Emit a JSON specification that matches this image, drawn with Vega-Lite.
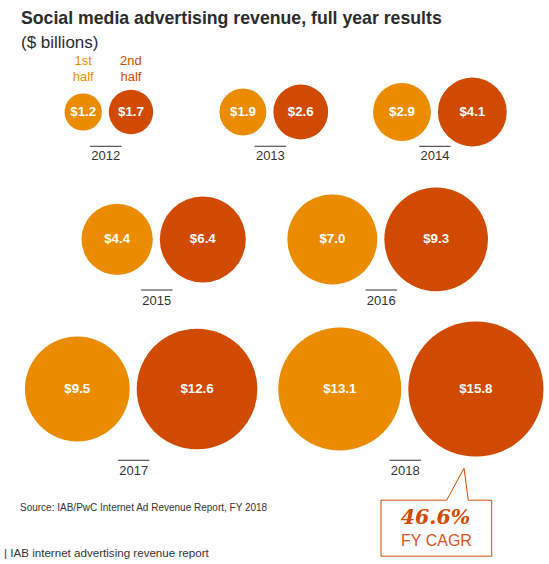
{
  "$schema": "https://vega.github.io/schema/vega-lite/v6.json",
  "background": "white",
  "padding": {"left": 0, "top": 10, "right": 0, "bottom": 0},
  "config": {"view": {"stroke": null}, "font": "Liberation Sans", "concat": {"spacing": 0}},
  "data": {"values": [
    {"year": "2012", "half": "1st half", "value": 1.2},
    {"year": "2012", "half": "2nd half", "value": 1.7},
    {"year": "2013", "half": "1st half", "value": 1.9},
    {"year": "2013", "half": "2nd half", "value": 2.6},
    {"year": "2014", "half": "1st half", "value": 2.9},
    {"year": "2014", "half": "2nd half", "value": 4.1},
    {"year": "2015", "half": "1st half", "value": 4.4},
    {"year": "2015", "half": "2nd half", "value": 6.4},
    {"year": "2016", "half": "1st half", "value": 7.0},
    {"year": "2016", "half": "2nd half", "value": 9.3},
    {"year": "2017", "half": "1st half", "value": 9.5},
    {"year": "2017", "half": "2nd half", "value": 12.6},
    {"year": "2018", "half": "1st half", "value": 13.1},
    {"year": "2018", "half": "2nd half", "value": 15.8}
  ]},
  "title": {"text": "| IAB internet advertising revenue report", "orient": "bottom", "anchor": "start", "frame": "group", "dx": 4, "offset": -10, "fontSize": 11.6, "fontWeight": "normal", "color": "#333333", "font": "Liberation Sans"},
  "vconcat": [
    {
      "title": {"text": "Social media advertising revenue, full year results", "subtitle": "($ billions)", "anchor": "start", "frame": "group", "dx": 21, "offset": 4, "fontSize": 17.7, "fontWeight": "bold", "font": "Liberation Sans", "color": "#2b2b2b", "subtitleFontSize": 17, "subtitleColor": "#2b2b2b", "subtitleFont": "Liberation Sans", "subtitlePadding": 7},
      "spacing": 0,
      "bounds": "flush",
      "resolve": {"scale": {"x": "independent", "xOffset": "independent"}},
      "vconcat": [
        {
          "width": 540.7, "height": 114,
          "transform": [{"filter": {"field": "year", "oneOf": ["2012", "2013", "2014"]}}],
          "encoding": {"x": {"field": "year", "type": "ordinal", "scale": {"type": "point", "padding": 0.643}, "axis": null}},
          "layer": [
            {
              "transform": [{"filter": {"field": "half", "equal": "1st half"}}],
              "encoding": {"xOffset": {"field": "value", "type": "quantitative", "scale": {"type": "sqrt", "domain": [0, 15.8], "range": [-4, -71.57], "nice": false}}},
              "layer": [
                {"mark": {"type": "circle", "opacity": 1}, "encoding": {"size": {"field": "value", "type": "quantitative", "scale": {"domain": [0, 15.8], "range": [0, 18265]}, "legend": null}, "color": {"field": "half", "type": "nominal", "scale": {"domain": ["1st half", "2nd half"], "range": ["#EB8C00", "#D04A02"]}, "legend": null}}},
                {"mark": {"type": "text", "color": "white", "fontWeight": "bold", "fontSize": 13.3, "baseline": "middle", "align": "center"}, "encoding": {"text": {"field": "value", "type": "quantitative", "format": "$.1f"}}},
                {"transform": [{"filter": {"field": "year", "equal": "2012"}}], "mark": {"type": "text", "lineBreak": " ", "lineHeight": 16, "fontSize": 13, "dy": -47.3, "baseline": "alphabetic", "align": "center"}, "encoding": {"text": {"field": "half", "type": "nominal"}, "color": {"field": "half", "type": "nominal", "scale": {"domain": ["1st half", "2nd half"], "range": ["#EB8C00", "#D04A02"]}, "legend": null}}}
              ]
            },
            {
              "transform": [{"filter": {"field": "half", "equal": "2nd half"}}],
              "encoding": {"xOffset": {"field": "value", "type": "quantitative", "scale": {"type": "sqrt", "domain": [0, 15.8], "range": [3, 70.57], "nice": false}}},
              "layer": [
                {"mark": {"type": "circle", "opacity": 1}, "encoding": {"size": {"field": "value", "type": "quantitative", "scale": {"domain": [0, 15.8], "range": [0, 18265]}, "legend": null}, "color": {"field": "half", "type": "nominal", "scale": {"domain": ["1st half", "2nd half"], "range": ["#EB8C00", "#D04A02"]}, "legend": null}}},
                {"mark": {"type": "text", "color": "white", "fontWeight": "bold", "fontSize": 13.3, "baseline": "middle", "align": "center"}, "encoding": {"text": {"field": "value", "type": "quantitative", "format": "$.1f"}}},
                {"transform": [{"filter": {"field": "year", "equal": "2012"}}], "mark": {"type": "text", "lineBreak": " ", "lineHeight": 16, "fontSize": 13, "dy": -47.3, "baseline": "alphabetic", "align": "center"}, "encoding": {"text": {"field": "half", "type": "nominal"}, "color": {"field": "half", "type": "nominal", "scale": {"domain": ["1st half", "2nd half"], "range": ["#EB8C00", "#D04A02"]}, "legend": null}}}
              ]
            },
            {
              "transform": [{"filter": {"field": "half", "equal": "1st half"}}],
              "layer": [
                {"mark": {"type": "tick", "orient": "horizontal", "size": 31.5, "thickness": 1, "color": "#333333", "opacity": 1, "yOffset": 34.3}, "encoding": {}},
                {"mark": {"type": "text", "fontSize": 13, "color": "#333333", "dy": 48, "baseline": "alphabetic", "align": "center"}, "encoding": {"text": {"field": "year", "type": "nominal"}}}
              ]
            }
          ],
          "resolve": {"scale": {"xOffset": "independent"}}
        },
        {
          "width": 538.1, "height": 140.8,
          "transform": [{"filter": {"field": "year", "oneOf": ["2015", "2016"]}}],
          "encoding": {"x": {"field": "year", "type": "ordinal", "scale": {"type": "point", "padding": 0.6984}, "axis": null}},
          "layer": [
            {
              "transform": [{"filter": {"field": "half", "equal": "1st half"}}],
              "encoding": {"xOffset": {"field": "value", "type": "quantitative", "scale": {"type": "sqrt", "domain": [0, 15.8], "range": [-4, -71.57], "nice": false}}},
              "layer": [
                {"mark": {"type": "circle", "opacity": 1}, "encoding": {"size": {"field": "value", "type": "quantitative", "scale": {"domain": [0, 15.8], "range": [0, 18265]}, "legend": null}, "color": {"field": "half", "type": "nominal", "scale": {"domain": ["1st half", "2nd half"], "range": ["#EB8C00", "#D04A02"]}, "legend": null}}},
                {"mark": {"type": "text", "color": "white", "fontWeight": "bold", "fontSize": 13.3, "baseline": "middle", "align": "center"}, "encoding": {"text": {"field": "value", "type": "quantitative", "format": "$.1f"}}}
              ]
            },
            {
              "transform": [{"filter": {"field": "half", "equal": "2nd half"}}],
              "encoding": {"xOffset": {"field": "value", "type": "quantitative", "scale": {"type": "sqrt", "domain": [0, 15.8], "range": [3, 70.57], "nice": false}}},
              "layer": [
                {"mark": {"type": "circle", "opacity": 1}, "encoding": {"size": {"field": "value", "type": "quantitative", "scale": {"domain": [0, 15.8], "range": [0, 18265]}, "legend": null}, "color": {"field": "half", "type": "nominal", "scale": {"domain": ["1st half", "2nd half"], "range": ["#EB8C00", "#D04A02"]}, "legend": null}}},
                {"mark": {"type": "text", "color": "white", "fontWeight": "bold", "fontSize": 13.3, "baseline": "middle", "align": "center"}, "encoding": {"text": {"field": "value", "type": "quantitative", "format": "$.1f"}}}
              ]
            },
            {
              "transform": [{"filter": {"field": "half", "equal": "1st half"}}],
              "layer": [
                {"mark": {"type": "tick", "orient": "horizontal", "size": 31.5, "thickness": 1, "color": "#333333", "opacity": 1, "yOffset": 50.6}, "encoding": {}},
                {"mark": {"type": "text", "fontSize": 13, "color": "#333333", "dy": 65.3, "baseline": "alphabetic", "align": "center"}, "encoding": {"text": {"field": "year", "type": "nominal"}}}
              ]
            }
          ],
          "resolve": {"scale": {"xOffset": "independent"}}
        },
        {
          "width": 539.0, "height": 158,
          "title": {"text": "Source: IAB/PwC Internet Ad Revenue Report,  FY 2018", "orient": "bottom", "anchor": "start", "frame": "group", "dx": 20, "offset": -55, "fontSize": 10, "fontWeight": "normal", "color": "#333333", "font": "Liberation Sans"},
          "transform": [{"filter": {"field": "year", "oneOf": ["2017", "2018"]}}],
          "encoding": {"x": {"field": "year", "type": "ordinal", "scale": {"type": "point", "padding": 0.4923}, "axis": null}},
          "layer": [
            {
              "transform": [{"filter": {"field": "half", "equal": "1st half"}}],
              "encoding": {"xOffset": {"field": "value", "type": "quantitative", "scale": {"type": "sqrt", "domain": [0, 15.8], "range": [-4, -71.57], "nice": false}}},
              "layer": [
                {"mark": {"type": "circle", "opacity": 1}, "encoding": {"size": {"field": "value", "type": "quantitative", "scale": {"domain": [0, 15.8], "range": [0, 18265]}, "legend": null}, "color": {"field": "half", "type": "nominal", "scale": {"domain": ["1st half", "2nd half"], "range": ["#EB8C00", "#D04A02"]}, "legend": null}}},
                {"mark": {"type": "text", "color": "white", "fontWeight": "bold", "fontSize": 13.3, "baseline": "middle", "align": "center"}, "encoding": {"text": {"field": "value", "type": "quantitative", "format": "$.1f"}}}
              ]
            },
            {
              "transform": [{"filter": {"field": "half", "equal": "2nd half"}}],
              "encoding": {"xOffset": {"field": "value", "type": "quantitative", "scale": {"type": "sqrt", "domain": [0, 15.8], "range": [3, 70.57], "nice": false}}},
              "layer": [
                {"mark": {"type": "circle", "opacity": 1}, "encoding": {"size": {"field": "value", "type": "quantitative", "scale": {"domain": [0, 15.8], "range": [0, 18265]}, "legend": null}, "color": {"field": "half", "type": "nominal", "scale": {"domain": ["1st half", "2nd half"], "range": ["#EB8C00", "#D04A02"]}, "legend": null}}},
                {"mark": {"type": "text", "color": "white", "fontWeight": "bold", "fontSize": 13.3, "baseline": "middle", "align": "center"}, "encoding": {"text": {"field": "value", "type": "quantitative", "format": "$.1f"}}}
              ]
            },
            {
              "transform": [{"filter": {"field": "half", "equal": "1st half"}}],
              "layer": [
                {"mark": {"type": "tick", "orient": "horizontal", "size": 31.5, "thickness": 1, "color": "#333333", "opacity": 1, "yOffset": 71.2}, "encoding": {}},
                {"mark": {"type": "text", "fontSize": 13, "color": "#333333", "dy": 85.9, "baseline": "alphabetic", "align": "center"}, "encoding": {"text": {"field": "year", "type": "nominal"}}}
              ]
            },
            {
              "transform": [{"filter": {"field": "year", "equal": "2018"}}, {"filter": {"field": "half", "equal": "2nd half"}}],
              "layer": [
                {"mark": {"type": "point", "shape": "M41.4,111.2L58.7,79.2L63,111.2L86.4,111.2L86.4,167.2L-24.3,167.2L-24.3,111.2Z", "size": 4, "filled": true, "fill": "white", "stroke": "#D04A02", "strokeWidth": 1, "opacity": 1}, "encoding": {}},
                {"mark": {"type": "text", "text": "46.6%", "font": "DejaVu Serif", "fontStyle": "italic", "fontWeight": "bold", "fontSize": 20.5, "color": "#D04A02", "dx": 30.2, "dy": 135.2, "align": "center", "baseline": "alphabetic"}, "encoding": {}},
                {"mark": {"type": "text", "text": "FY CAGR", "fontSize": 16, "color": "#D9531E", "dx": 31.2, "dy": 156.9, "align": "center", "baseline": "alphabetic"}, "encoding": {}}
              ]
            }
          ],
          "resolve": {"scale": {"xOffset": "independent"}}
        }
      ]
    }
  ]
}
